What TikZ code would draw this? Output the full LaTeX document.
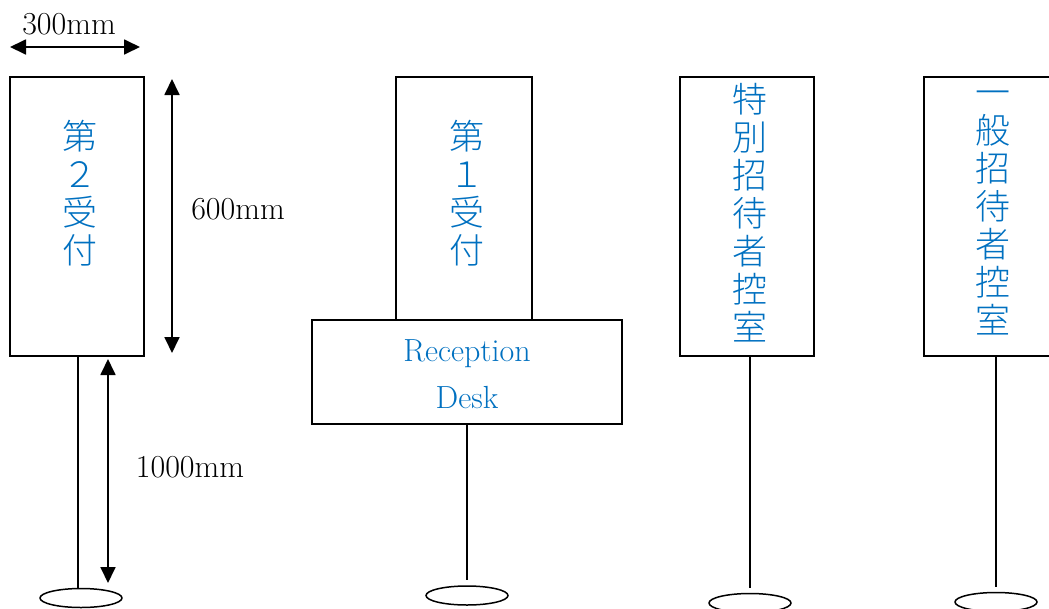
\documentclass[tikz,border=0pt]{standalone}
\usepackage{fontspec}
\newfontfamily\cjk{Noto Sans CJK JP Light}
\usetikzlibrary{arrows.meta,shapes.geometric}
\definecolor{signblue}{RGB}{0,112,192}

\begin{document}
\begin{tikzpicture}[x=1pt,y=-1pt]
      \tikzset{
        board/.style={rectangle,draw,line width=1.5pt,inner sep=0pt},
        base/.style={ellipse,draw,line width=1.5pt,inner sep=0pt,minimum width=82pt,minimum height=19pt},
        pole/.style={line width=1.5pt},
        signtext/.style={text=signblue,align=center,inner sep=0pt,font=\cjk\fontsize{35}{38}\selectfont},
        desktext/.style={text=signblue,align=center,inner sep=0pt,font=\fontsize{32}{47}\selectfont},
        dim/.style={line width=1.8pt,{Triangle[length=16pt,width=15pt]}-{Triangle[length=16pt,width=15pt]}},
        dimtext/.style={inner sep=0pt,font=\fontsize{32}{34}\selectfont}
      }
      \useasboundingbox (0,0) rectangle (1049,608);

      % second reception
      \node[board,minimum width=134pt,minimum height=279pt] (s2) at (77,216.5) {};
      \node[signtext] (t2) at (80,193.5) {第\\２\\受\\付};
      \node[base] (b2) at (81,598) {};

      % first reception and desk
      \node[board,minimum width=136pt,minimum height=243pt] (s1) at (464,198.5) {};
      \node[board,minimum width=310pt,minimum height=104pt] (desk) at (467,372) {};
      \node[signtext] (t1) at (467,193.5) {第\\１\\受\\付};
      \node[desktext] (td) at (467,374) {Reception\\Desk};
      \node[base] (b1) at (467,595.5) {};

      % waiting rooms
      \node[board,minimum width=134pt,minimum height=279pt] (s3) at (747,216.5) {};
      \node[signtext] (t3) at (750,212.5) {特\\別\\招\\待\\者\\控\\室};
      \node[base] (b3) at (750,603) {};
      \node[board,minimum width=134pt,minimum height=279pt] (s4) at (991,216.5) {};
      \node[signtext] (t4) at (993,212.5) {一\\般\\招\\待\\者\\控\\室};
      \node[base] (b4) at (996,602) {};

      \draw[pole] (s2.south -| 78,0) -- (78,589);
      \draw[pole] (desk.south -| b1.north) -- ([yshift=5pt]b1.north);
      \draw[pole] (s3.south -| b3.north) -- ([yshift=5pt]b3.north);
      \draw[pole] (s4.south -| b4.north) -- ([yshift=5pt]b4.north);

      % dimensions
      \coordinate (w1) at (10,47);
      \coordinate (w2) at (140,47);
      \coordinate (h1) at (172,79);
      \coordinate (h2) at (172,353);
      \coordinate (p1) at (108,359);
      \coordinate (p2) at (108,583);
      \draw[dim] (w1) -- (w2);
      \draw[dim] (h1) -- (h2);
      \draw[dim] (p1) -- (p2);
      \node[dimtext] (l300) at (69,24) {300mm};
      \node[dimtext] (l600) at (238,209) {600mm};
      \node[dimtext] (l1000) at (190,467) {1000mm};
\end{tikzpicture}
\end{document}
